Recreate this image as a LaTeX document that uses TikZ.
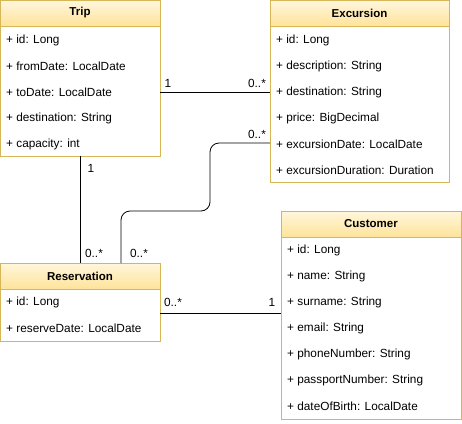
\documentclass[tikz,border=0pt]{standalone}
\usepackage{fontspec}
\setmainfont{Liberation Sans}
\definecolor{hdrtop}{HTML}{FFF6DC}
\definecolor{hdrbot}{HTML}{FFE39A}
\definecolor{strk}{HTML}{D6B656}
\begin{document}
\begin{tikzpicture}[x=1pt,y=-1pt,
  box/.style={draw=strk,line width=0.8pt,fill=white},
  hdr/.style={draw=strk,line width=0.8pt,top color=hdrtop,bottom color=hdrbot},
  ttl/.style={font=\fontsize{11.5}{13}\selectfont\bfseries},
  attr/.style={font=\fontsize{11.8}{13}\selectfont,anchor=west,inner sep=0pt},
  mult/.style={font=\fontsize{11.8}{13}\selectfont,inner sep=0pt},
  assoc/.style={draw=black,line width=0.8pt}]
\useasboundingbox (0,0) rectangle (462,423);
% Trip
\draw[box] (0.5,0.5) rectangle (160,156);
\draw[hdr] (0.5,0.5) rectangle (160,26);
\node[ttl] (trip) at (80,13) {Trip};
\node[attr] (t1) at (6,40) {+ id: Long};
\node[attr] (t2) at (6,66) {+ fromDate: LocalDate};
\node[attr] (t3) at (6,92) {+ toDate: LocalDate};
\node[attr] (t4) at (6,118) {+ destination: String};
\node[attr] (t5) at (6,144) {+ capacity: int};
\coordinate (tripR) at (160,92);
\coordinate (tripB) at (80,156);
% Excursion
\draw[box] (270,0.5) rectangle (449,182);
\draw[hdr] (270,0.5) rectangle (449,26);
\node[ttl] (exc) at (359.5,13) {Excursion};
\node[attr] (e1) at (276,40) {+ id: Long};
\node[attr] (e2) at (276,66) {+ description: String};
\node[attr] (e3) at (276,92) {+ destination: String};
\node[attr] (e4) at (276,118) {+ price: BigDecimal};
\node[attr] (e5) at (276,144) {+ excursionDate: LocalDate};
\node[attr] (e6) at (276,170) {+ excursionDuration: Duration};
\coordinate (excL1) at (270,92);
\coordinate (excL2) at (270,143);
% Customer
\draw[box] (281,211) rectangle (461,419);
\draw[hdr] (281,211) rectangle (461,237);
\node[ttl] (cus) at (371,224) {Customer};
\node[attr] (c1) at (287,250) {+ id: Long};
\node[attr] (c2) at (287,276) {+ name: String};
\node[attr] (c3) at (287,302) {+ surname: String};
\node[attr] (c4) at (287,328) {+ email: String};
\node[attr] (c5) at (287,354) {+ phoneNumber: String};
\node[attr] (c6) at (287,380) {+ passportNumber: String};
\node[attr] (c7) at (287,406) {+ dateOfBirth: LocalDate};
\coordinate (cusL) at (281,313);
% Reservation
\draw[box] (0.5,263) rectangle (160,341);
\draw[hdr] (0.5,263) rectangle (160,289);
\node[ttl] (res) at (80,276) {Reservation};
\node[attr] (r1) at (6,302) {+ id: Long};
\node[attr] (r2) at (6,328) {+ reserveDate: LocalDate};
\coordinate (resT1) at (80,263);
\coordinate (resT2) at (121,263);
\coordinate (resR) at (160,313);
% associations
\draw[assoc] (tripR) -- (excL1);
\draw[assoc] (tripB) -- (resT1);
\draw[assoc,rounded corners=9pt] (excL2) -- (210,143) -- (210,211) -- (121,211) -- (resT2);
\draw[assoc] (resR) -- (cusL);
% multiplicities
\node[mult] (m1) at (168,83) {1};
\node[mult] (m2) at (257,83) {0..*};
\node[mult] (m3) at (91,168) {1};
\node[mult] (m4) at (94,253) {0..*};
\node[mult] (m5) at (257,134) {0..*};
\node[mult] (m6) at (139,253) {0..*};
\node[mult] (m7) at (173,302) {0..*};
\node[mult] (m8) at (272,302) {1};
\end{tikzpicture}
\end{document}
